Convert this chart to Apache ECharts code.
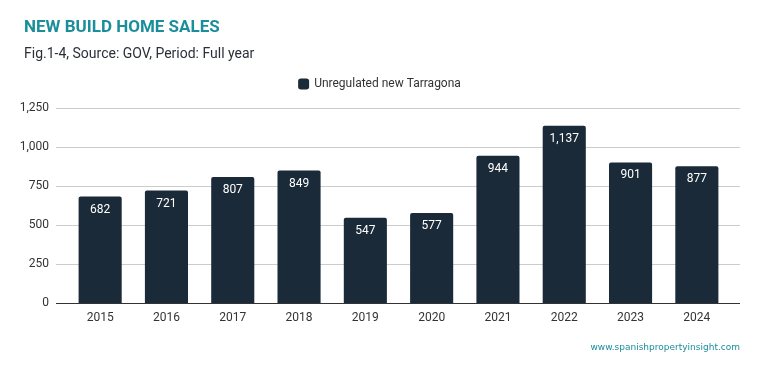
<!DOCTYPE html>
<html><head><meta charset="utf-8">
<script src="https://cdn.jsdelivr.net/npm/echarts@6/dist/echarts.min.js"></script>
<style>html,body{margin:0;padding:0;background:#fff}#c{width:759px;height:371px}</style>
</head><body><div id="c"></div>
<script>
const categories = ['2015','2016','2017','2018','2019','2020','2021','2022','2023','2024'];
const seriesName = 'Unregulated new Tarragona';
const values = [682,721,807,849,547,577,944,1137,901,877];
const yTicks = [0,250,500,750,1000,1250];

const chart = echarts.init(document.getElementById('c'));
const font = 'Roboto, "Noto Sans", sans-serif';
chart.setOption({
  backgroundColor:'#fff',
  animation:false,
  title:[
    {text:'NEW BUILD HOME SALES', left:19, top:14, textStyle:{fontFamily:font,fontSize:17,fontWeight:'bold',color:'#1b8e9c'}},
    {text:'Fig.1-4, Source: GOV, Period: Full year', left:19, top:42, textStyle:{fontFamily:font,fontSize:14,fontWeight:'normal',color:'#2b2f38'}},
    {text:'www.spanishpropertyinsight.com', right:14, top:338, textStyle:{fontFamily:'"DejaVu Sans", sans-serif',fontSize:9,fontWeight:'normal',color:'#1b8e9c'}}
  ],
  legend:{data:[seriesName], top:73, left:'center', itemWidth:11, itemHeight:11, itemGap:10,
    textStyle:{fontFamily:font,fontSize:12,color:'#333'}},
  grid:[
    {left:56, right:19, top:108, bottom:68},
    {left:67, right:29, top:108, bottom:68}
  ],
  xAxis:[
    {gridIndex:0, type:'category', data:categories, show:false},
    {gridIndex:1, type:'category', data:categories,
     axisLine:{show:false}, axisTick:{show:false},
     axisLabel:{fontFamily:font,fontSize:12,color:'#333',margin:9}}
  ],
  yAxis:[
    {gridIndex:0, type:'value', min:0, max:1250, interval:250,
     axisLine:{show:false}, axisTick:{show:false},
     axisLabel:{fontFamily:font,fontSize:12,color:'#333',margin:7,
       formatter:v=>v.toLocaleString('en-US')},
     splitLine:{lineStyle:{color:'#cccccc',width:1}}},
    {gridIndex:1, type:'value', min:0, max:1250, interval:250, show:false, splitLine:{show:false}}
  ],
  series:[
    {name:'axisline', type:'line', xAxisIndex:0, yAxisIndex:0, data:[], silent:true,
     markLine:{symbol:'none', silent:true, label:{show:false},
       lineStyle:{color:'#333',type:'solid',width:1}, data:[{yAxis:0}]}},
    {name:seriesName, type:'bar', xAxisIndex:1, yAxisIndex:1, data:values, barWidth:'65%',
     itemStyle:{color:'#1b2a39', borderRadius:[2,2,0,0]},
     label:{show:true, position:'insideTop', distance:7, color:'#fff', fontFamily:font, fontSize:12,
       formatter:p=>p.value.toLocaleString('en-US')}}
  ]
});
</script></body></html>
